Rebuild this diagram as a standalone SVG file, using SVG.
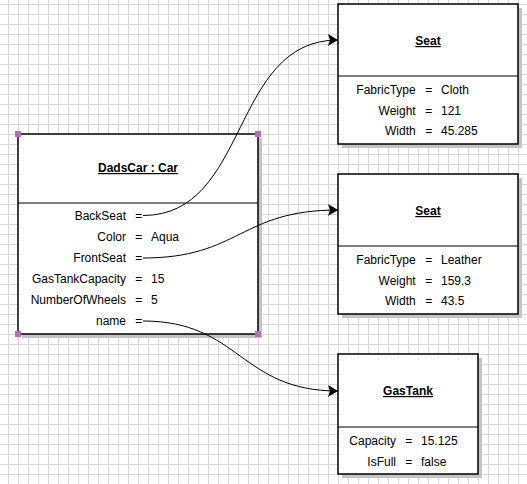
<svg xmlns="http://www.w3.org/2000/svg" width="527" height="484" viewBox="0 0 527 484">
<style>
text{font-family:"Liberation Sans",Arial,sans-serif;font-size:12px;fill:#000}
.t{font-weight:bold;text-decoration:underline;text-anchor:middle}
.n{text-anchor:end}
.e{text-anchor:middle}
.box{fill:#fff;stroke:#000;stroke-width:1.5}
.sh{fill:#c4c4c4}
.div{stroke:#000;stroke-width:1.2}
.h{fill:#b86cbf}
.c{fill:none;stroke:#000;stroke-width:1;marker-end:url(#arr)}
</style>
<defs>
<pattern id="grid" width="10" height="10" patternUnits="userSpaceOnUse" x="8" y="4">
<path d="M0.5 0V10M0 0.5H10" stroke="#d9d9d9" stroke-width="1" fill="none"/>
</pattern>
<marker id="arr" markerUnits="userSpaceOnUse" markerWidth="11" markerHeight="12" refX="10" refY="6" orient="auto">
<path d="M0 0L10 6L0 12L2 6Z" fill="#000"/>
</marker>
</defs>
<rect width="527" height="484" fill="#fff"/>
<rect width="527" height="484" fill="url(#grid)"/>

<g id="car">
<rect class="sh" x="22" y="138" width="240" height="200"/>
<rect class="box" x="18" y="134" width="240" height="200"/>
<line class="div" x1="18" y1="203" x2="258" y2="203"/>
<text class="t" x="138" y="172">DadsCar : Car</text>
<text class="n" x="126" y="220">BackSeat</text><text class="e" x="138.7" y="220">=</text>
<text class="n" x="126" y="241">Color</text><text class="e" x="138.7" y="241">=</text><text x="151" y="241">Aqua</text>
<text class="n" x="126" y="262">FrontSeat</text><text class="e" x="138.7" y="262">=</text>
<text class="n" x="126" y="283">GasTankCapacity</text><text class="e" x="138.7" y="283">=</text><text x="151" y="283">15</text>
<text class="n" x="126" y="304">NumberOfWheels</text><text class="e" x="138.7" y="304">=</text><text x="151" y="304">5</text>
<text class="n" x="126" y="325">name</text><text class="e" x="138.7" y="325">=</text>
<rect class="h" x="15" y="131" width="6" height="6"/>
<rect class="h" x="255" y="131" width="6" height="6"/>
<rect class="h" x="15" y="331" width="6" height="6"/>
<rect class="h" x="255" y="331" width="6" height="6"/>
</g>

<g id="seat1">
<rect class="sh" x="342" y="8" width="180" height="140"/>
<rect class="box" x="338" y="4" width="180" height="140"/>
<line class="div" x1="338" y1="76" x2="518" y2="76"/>
<text class="t" x="428" y="45">Seat</text>
<text class="n" x="415.7" y="94">FabricType</text><text class="e" x="428.7" y="94">=</text><text x="441" y="94">Cloth</text>
<text class="n" x="415.7" y="114.5">Weight</text><text class="e" x="428.7" y="114.5">=</text><text x="441" y="114.5">121</text>
<text class="n" x="415.7" y="135">Width</text><text class="e" x="428.7" y="135">=</text><text x="441" y="135">45.285</text>
</g>

<g id="seat2">
<rect class="sh" x="342" y="178" width="180" height="140"/>
<rect class="box" x="338" y="174" width="180" height="140"/>
<line class="div" x1="338" y1="246" x2="518" y2="246"/>
<text class="t" x="428" y="215">Seat</text>
<text class="n" x="415.7" y="264">FabricType</text><text class="e" x="428.7" y="264">=</text><text x="441" y="264">Leather</text>
<text class="n" x="415.7" y="284.5">Weight</text><text class="e" x="428.7" y="284.5">=</text><text x="441" y="284.5">159.3</text>
<text class="n" x="415.7" y="305">Width</text><text class="e" x="428.7" y="305">=</text><text x="441" y="305">43.5</text>
</g>

<g id="gastank">
<rect class="sh" x="342" y="358" width="140" height="120"/>
<rect class="box" x="338" y="354" width="140" height="120"/>
<line class="div" x1="338" y1="427" x2="478" y2="427"/>
<text class="t" x="408" y="395">GasTank</text>
<text class="n" x="396" y="445">Capacity</text><text class="e" x="408.7" y="445">=</text><text x="421" y="445">15.125</text>
<text class="n" x="396" y="465.5">IsFull</text><text class="e" x="408.7" y="465.5">=</text><text x="421" y="465.5">false</text>
</g>

<g id="connectors">
<path class="c" d="M143 215.5C250 215.5 230 40 338 40"/>
<path class="c" d="M143 258C240 258 240 210 338 210"/>
<path class="c" d="M143 321C240 321 240 391 338 391"/>
</g>
</svg>
